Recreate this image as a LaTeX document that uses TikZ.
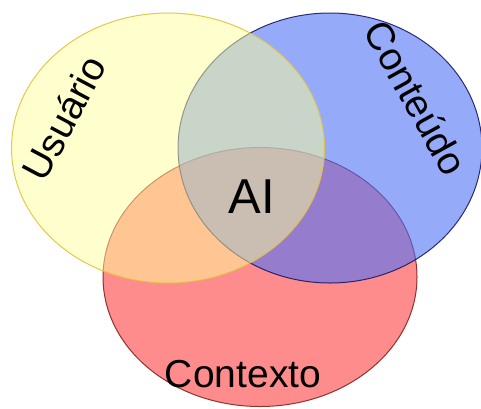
\documentclass[tikz,border=0pt]{standalone}
\usepackage{fontspec}
\setmainfont{Liberation Sans}
\usetikzlibrary{shapes.geometric}

\definecolor{usuariofill}{RGB}{255,255,155}
\definecolor{usuarioline}{RGB}{225,195,60}
\definecolor{conteudofill}{RGB}{80,113,247}
\definecolor{conteudoline}{RGB}{25,25,100}
\definecolor{contextofill}{RGB}{255,25,25}
\definecolor{contextoline}{RGB}{130,35,35}

\begin{document}
\begin{tikzpicture}[
                x=1pt, y=-1pt,
                conjunto/.style = {ellipse, line width=1pt, inner sep=0pt, draw opacity=0.9},
                rotulo/.style = {font=\fontsize{39}{39}\selectfont, inner sep=0pt}
        ]
        \useasboundingbox (0,0) rectangle (481,408);
        % conjuntos
        \node[conjunto, draw=contextoline, fill=contextofill, fill opacity=0.5, minimum width=314pt, minimum height=259pt] (contexto) at (260,277) {};
        \node[conjunto, draw=conteudoline, fill=conteudofill, fill opacity=0.6, minimum width=304pt, minimum height=270pt] (conteudo) at (330,148) {};
        \node[conjunto, draw=usuarioline, fill=usuariofill, fill opacity=0.5, minimum width=313pt, minimum height=270pt] (usuario) at (168,148) {};
        % rotulos
        \node[rotulo, rotate=62] (lusuario) at (64,118) {Usuário};
        \node[rotulo, rotate=-61] (lconteudo) at (416,98) {Conteúdo};
        \node[rotulo] (lcontexto) at (243,374) {Contexto};
        \node[rotulo, font=\fontsize{49}{49}\selectfont] (ai) at (252,197) {AI};
\end{tikzpicture}
\end{document}
